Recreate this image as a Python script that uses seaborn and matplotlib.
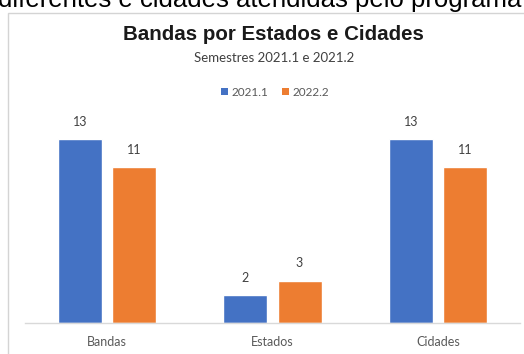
import matplotlib
matplotlib.use("Agg")
import matplotlib.pyplot as plt
from matplotlib.patches import Patch, Rectangle
import seaborn as sns
import pandas as pd

categories = ["Bandas", "Estados", "Cidades"]
series_names = ["2021.1", "2022.2"]
values_2021_1 = [13, 2, 13]
values_2022_2 = [11, 3, 11]
title = "Bandas por Estados e Cidades"
subtitle = "Semestres 2021.1 e 2021.2"
header_text = "diferentes e cidades atendidas pelo programa"

colors = ["#4472C4", "#ED7D31"]

df = pd.DataFrame({
    "cat": categories * 2,
    "serie": [series_names[0]] * 3 + [series_names[1]] * 3,
    "val": values_2021_1 + values_2022_2,
})

sns.set_theme(style="white")
plt.rcParams["font.family"] = ["Lato", "DejaVu Sans"]

W, H = 524, 354
fig = plt.figure(figsize=(W / 100, H / 100), dpi=100)
fig.patch.set_facecolor("white")

# chart frame border
fig.patches.append(Rectangle((8 / W, -0.1), 1.2, (H - 13) / H + 0.1,
                             transform=fig.transFigure, fill=False,
                             edgecolor="#d4d4d4", linewidth=1.0))

# cropped header text from surrounding page (cut off at top, as in the reference)
fig.text(-2 / W, 1 - 7.5 / H, header_text, fontsize=18.5, color="black",
         family=["Liberation Sans", "DejaVu Sans"], ha="left", va="baseline")

ax = fig.add_axes([24.5 / W, 31 / H, 496 / W, 198 / H])
sns.barplot(data=df, x="cat", y="val", hue="serie", palette=colors,
            width=0.655, gap=0.185, saturation=1, legend=False, ax=ax)
ax.set_xlim(-0.5, 2.5)
ax.set_ylim(0, 14)

for c in ax.containers:
    ax.bar_label(c, padding=8, fontsize=9, color="#404040")

for s in ["top", "right", "left"]:
    ax.spines[s].set_visible(False)
ax.spines["bottom"].set_color("#d9d9d9")
ax.spines["bottom"].set_linewidth(1.0)
ax.set_yticks([])
ax.set_xlabel("")
ax.set_ylabel("")
ax.tick_params(axis="x", length=0, pad=9, labelsize=9, labelcolor="#595959")
ax.set_facecolor("none")

fig.text(273 / W, 1 - 35 / H, title, fontsize=14.8, fontweight="bold",
         family=["Liberation Sans", "DejaVu Sans"], color="#1a1a1a",
         ha="center", va="center")
fig.text(274 / W, 1 - 58 / H, subtitle, fontsize=9.5, color="#404040",
         ha="center", va="center")

handles = [Patch(facecolor=colors[0], edgecolor="none"),
           Patch(facecolor=colors[1], edgecolor="none")]
fig.legend(handles, series_names, loc="center", bbox_to_anchor=(275 / W, 1 - 92 / H),
           ncol=2, frameon=False, fontsize=8.5, handlelength=0.55, handleheight=0.55,
           handletextpad=0.3, columnspacing=1.2, labelcolor="#595959")

fig.savefig("out.png", dpi=100, facecolor="white")
